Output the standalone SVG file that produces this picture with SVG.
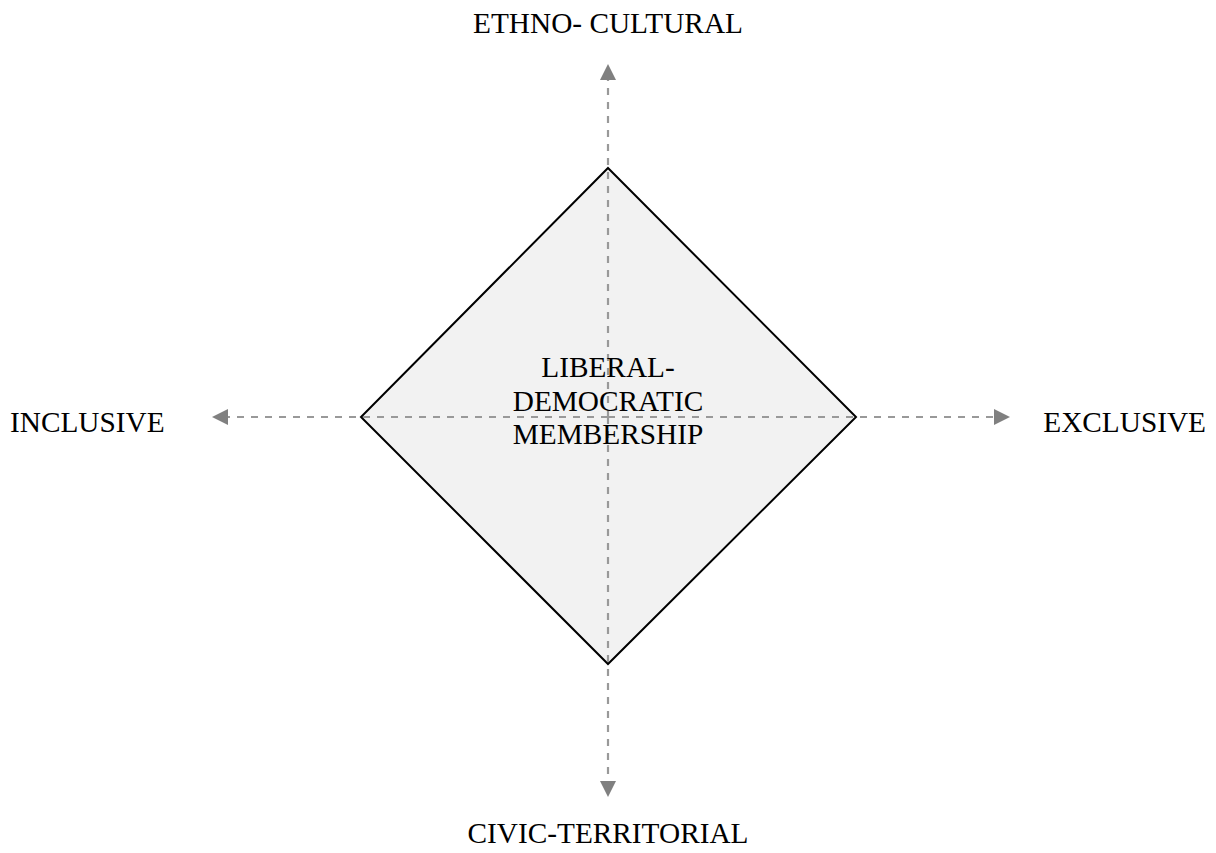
<svg xmlns="http://www.w3.org/2000/svg" width="1216" height="853" viewBox="0 0 1216 853">
<style>
text{font-family:"Liberation Serif","Times New Roman",serif;font-size:29.3px;fill:#000}
.ax{stroke:#999;stroke-width:2.2;stroke-dasharray:7 7;fill:none}
</style>
<defs>
<marker id="ah" viewBox="0 0 10 10" refX="0" refY="5" markerWidth="16" markerHeight="16" markerUnits="userSpaceOnUse" orient="auto">
<path d="M0,0 L10,5 L0,10 Z" fill="#808080"/>
</marker>
</defs>
<rect width="1216" height="853" fill="#fff"/>
<g id="diamond">
<path d="M608,168 L856,417 L608,664 L361,417 Z" fill="#f2f2f2" stroke="#000" stroke-width="2"/>
</g>
<g id="connectors">
<line class="ax" x1="608" y1="417" x2="228" y2="417" marker-end="url(#ah)"/>
<line class="ax" x1="608" y1="417" x2="994" y2="417" marker-end="url(#ah)"/>
<line class="ax" x1="608" y1="417" x2="608" y2="80" marker-end="url(#ah)"/>
<line class="ax" x1="608" y1="417" x2="608" y2="781" marker-end="url(#ah)"/>
</g>
<g id="center-label">
<text x="608" y="377" text-anchor="middle">LIBERAL-</text>
<text x="608" y="411" text-anchor="middle">DEMOCRATIC</text>
<text x="608" y="444" text-anchor="middle">MEMBERSHIP</text>
</g>
<g id="top-label"><text x="608" y="33" text-anchor="middle">ETHNO- CULTURAL</text></g>
<g id="bottom-label"><text x="608" y="843" text-anchor="middle">CIVIC-TERRITORIAL</text></g>
<g id="left-label"><text x="10" y="432">INCLUSIVE</text></g>
<g id="right-label"><text x="1206" y="432" text-anchor="end">EXCLUSIVE</text></g>
</svg>
